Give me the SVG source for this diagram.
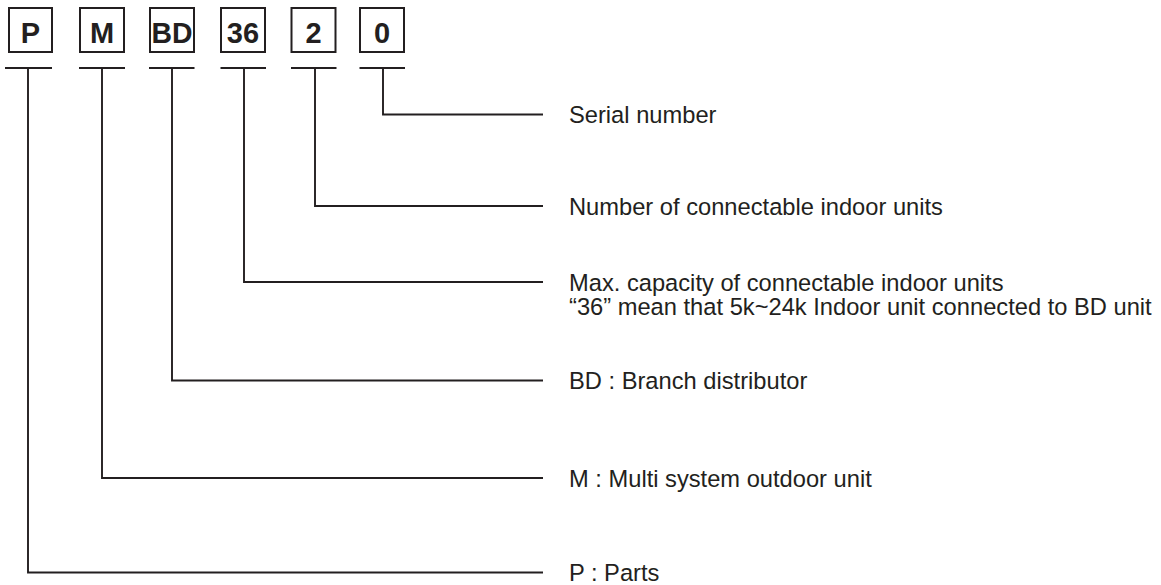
<svg xmlns="http://www.w3.org/2000/svg" width="1161" height="585" viewBox="0 0 1161 585">
  <style>
    .box{fill:#fff;stroke:#231f20;stroke-width:2}
    .code{font-family:"Liberation Sans",Arial,sans-serif;font-weight:bold;font-size:29px;fill:#231f20;text-anchor:middle}
    .lbl{font-family:"Liberation Sans",Arial,sans-serif;font-size:23.7px;fill:#231f20}
    .ln{fill:none;stroke:#231f20;stroke-width:1.9}
  </style>
  <rect width="1161" height="585" fill="#fff"/>
  <g id="node-P">
    <rect class="box" x="9" y="8" width="43" height="44"/>
    <text class="code" x="30.5" y="43">P</text>
  </g>
  <g id="node-M">
    <rect class="box" x="80" y="8" width="44" height="44"/>
    <text class="code" x="102" y="43">M</text>
  </g>
  <g id="node-BD">
    <rect class="box" x="150" y="8" width="44" height="44"/>
    <text class="code" x="172" y="43" textLength="41" lengthAdjust="spacingAndGlyphs">BD</text>
  </g>
  <g id="node-36">
    <rect class="box" x="221" y="8" width="44" height="44"/>
    <text class="code" x="243" y="43">36</text>
  </g>
  <g id="node-2">
    <rect class="box" x="291.5" y="8" width="44" height="44"/>
    <text class="code" x="313.5" y="43">2</text>
  </g>
  <g id="node-0">
    <rect class="box" x="360" y="8" width="44" height="44"/>
    <text class="code" x="382" y="43">0</text>
  </g>
  <g id="connectors">
    <line class="ln" x1="5" y1="68" x2="52" y2="68"/>
    <line class="ln" x1="79" y1="68" x2="125" y2="68"/>
    <line class="ln" x1="149" y1="68" x2="194.5" y2="68"/>
    <line class="ln" x1="220.5" y1="68" x2="266" y2="68"/>
    <line class="ln" x1="291" y1="68" x2="336.5" y2="68"/>
    <line class="ln" x1="359.5" y1="68" x2="405" y2="68"/>
    <polyline class="ln" points="383,68 383,114.5 543,114.5"/>
    <polyline class="ln" points="315,68 315,206 543,206"/>
    <polyline class="ln" points="244,68 244,282 543,282"/>
    <polyline class="ln" points="172,68 172,380.5 543,380.5"/>
    <polyline class="ln" points="102,68 102,478 543,478"/>
    <polyline class="ln" points="28,68 28,572.5 543,572.5"/>
  </g>
  <g id="labels">
    <text class="lbl" x="569" y="123">Serial number</text>
    <text class="lbl" x="569" y="214.5">Number of connectable indoor units</text>
    <text class="lbl" x="569" y="291">Max. capacity of connectable indoor units</text>
    <text class="lbl" x="569" y="315">“36” mean that 5k~24k Indoor unit connected to BD unit</text>
    <text class="lbl" x="569" y="389">BD : Branch distributor</text>
    <text class="lbl" x="569" y="486.5">M : Multi system outdoor unit</text>
    <text class="lbl" x="569" y="581">P : Parts</text>
  </g>
</svg>
